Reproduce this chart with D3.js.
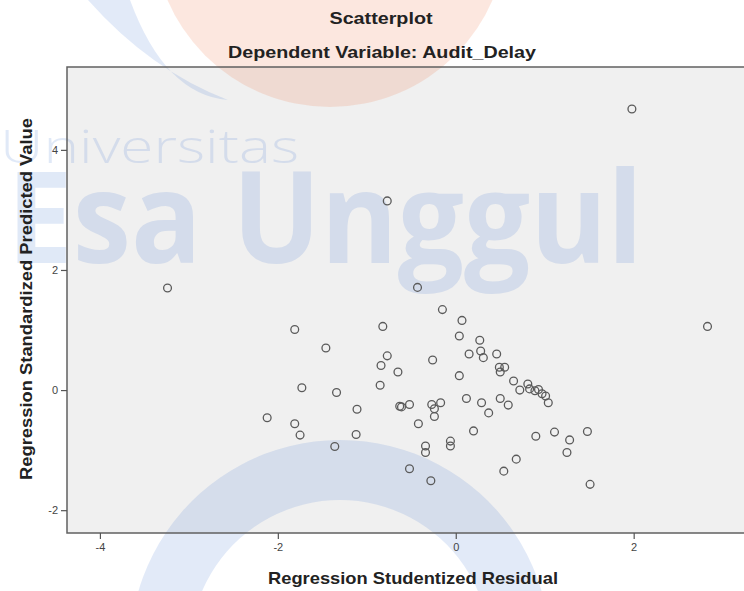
<!DOCTYPE html>
<meta charset="utf-8">
<script src="https://d3js.org/d3.v7.min.js"></script>
<style>
  body { margin: 0; background: #fff; }
  text { font-family: "Liberation Sans", Arial, sans-serif; }
</style>
<div id="chart"></div>
<script>

    // regression studentized residual (x) and standardized predicted value (y)
    var residual = [1.98, -0.77, -3.24, -0.43, 2.83, -0.15, 0.07, 0.04, 0.27, -1.81,
                    -0.82, -1.46, -0.77, -0.84, -0.65, -0.26, 0.15, 0.28, 0.31, 0.46,
                    0.49, 0.55, 0.50, 0.65, 0.72, 0.81, 0.83, 0.89, 0.93, 0.97,
                    1.01, 1.04, 0.04, -1.73, -1.34, -0.85, -2.12, -1.81, -1.75, -1.11,
                    -1.12, -1.36, -0.63, -0.61, -0.52, -0.27, -0.17, -0.24, -0.24, -0.42,
                    -0.34, -0.34, -0.52, -0.28, -0.06, -0.06, 0.12, 0.20, 0.29, 0.37,
                    0.50, 0.59, 0.54, 0.68, 0.90, 1.11, 1.28, 1.25, 1.48, 1.51];
    var predicted = [4.68, 3.15, 1.70, 1.71, 1.06, 1.34, 1.16, 0.90, 0.83, 1.01,
                     1.06, 0.70, 0.57, 0.41, 0.30, 0.50, 0.60, 0.65, 0.54, 0.60,
                     0.38, 0.38, 0.30, 0.15, 0.00, 0.10, 0.02, -0.01, 0.01, -0.06,
                     -0.10, -0.21, 0.24, 0.04, -0.04, 0.08, -0.46, -0.56, -0.75, -0.32,
                     -0.74, -0.94, -0.27, -0.28, -0.24, -0.24, -0.21, -0.31, -0.44, -0.56,
                     -0.93, -1.04, -1.31, -1.51, -0.85, -0.93, -0.14, -0.68, -0.21, -0.38,
                     -0.14, -0.25, -1.35, -1.15, -0.77, -0.70, -0.83, -1.04, -0.69, -1.57];
    var xTicks = [-4, -2, 0, 2];
    var yTicks = [-2, 0, 2, 4];

    var width = 744, height = 591;
    var plot = {left: 67, top: 67, right: 760, bottom: 533};

    var svg = d3.select("#chart")
      .append("svg")
        .attr("width", width)
        .attr("height", height);

    svg.append("rect")
        .attr("width", width)
        .attr("height", height)
        .attr("fill", "#fff");

    var x = d3.scaleLinear()
      .domain([-4.37, 3.42])
      .range([plot.left, plot.right]);

    var y = d3.scaleLinear()
      .domain([-2.38, 5.38])
      .range([plot.bottom, plot.top]);

    // plot background
    svg.append("rect")
        .attr("x", plot.left)
        .attr("y", plot.top)
        .attr("width", plot.right - plot.left)
        .attr("height", plot.bottom - plot.top)
        .attr("fill", "#f0f0f0");

    // faint university watermark
    var wm = svg.append("g");
    wm.append("circle")
        .attr("cx", 330).attr("cy", -70).attr("r", 177)
        .attr("fill", "#f07040").attr("opacity", 0.17);
    wm.append("path")
        .attr("d", "M88,0 Q150,70 228,100 Q165,95 130,0 Z")
        .attr("fill", "#3a6fd0").attr("opacity", 0.15);
    wm.append("path")
        .attr("d", d3.arc()({innerRadius: 150, outerRadius: 210, startAngle: -Math.PI * 0.62, endAngle: Math.PI * 0.62}))
        .attr("transform", "translate(340,650)")
        .attr("fill", "#3a6fd0").attr("opacity", 0.15);
    wm.append("text")
        .attr("x", 0).attr("y", 163)
        .attr("textLength", 299)
        .attr("lengthAdjust", "spacingAndGlyphs")
        .style("font-family", "'Open Sans', sans-serif")
        .style("font-weight", 300)
        .style("font-size", "46px")
        .attr("fill", "#3a6fd0").attr("opacity", 0.15)
        .text("Universitas");
    wm.append("text")
        .attr("x", 7).attr("y", 263)
        .attr("textLength", 636)
        .attr("lengthAdjust", "spacingAndGlyphs")
        .style("font-family", "'Open Sans', sans-serif")
        .style("font-weight", 700)
        .style("font-size", "127px")
        .attr("fill", "#3a6fd0").attr("opacity", 0.15)
        .text("Esa Unggul");

    // frame
    svg.append("rect")
        .attr("x", plot.left)
        .attr("y", plot.top)
        .attr("width", plot.right - plot.left)
        .attr("height", plot.bottom - plot.top)
        .attr("fill", "none")
        .attr("stroke", "#606060")
        .attr("stroke-width", 1.5);

    // axes
    var fmt = function(d) { return String(d); };
    var xAxis = svg.append("g")
        .attr("transform", "translate(0," + plot.bottom + ")")
        .call(d3.axisBottom(x).tickValues(xTicks).tickFormat(fmt).tickSize(6).tickPadding(4));
    var yAxis = svg.append("g")
        .attr("transform", "translate(" + plot.left + ",0)")
        .call(d3.axisLeft(y).tickValues(yTicks).tickFormat(fmt).tickSize(6).tickPadding(3));

    [xAxis, yAxis].forEach(function(a) {
      a.select(".domain").remove();
      a.selectAll(".tick line").attr("stroke", "#555").attr("stroke-width", 1.2);
      a.selectAll(".tick text")
        .attr("fill", "#444")
        .style("font-size", "11px")
        .style("font-family", "'Liberation Sans', Arial, sans-serif");
    });

    // points
    var points = residual.map(function(r, i) { return {r: r, p: predicted[i]}; });
    svg.append("g")
      .selectAll("circle")
      .data(points)
      .enter()
      .append("circle")
        .attr("cx", function(d) { return x(d.r); })
        .attr("cy", function(d) { return y(d.p); })
        .attr("r", 3.9)
        .attr("fill", "none")
        .attr("stroke", "#5a5a5a")
        .attr("stroke-width", 1.3);

    // titles
    svg.append("text")
        .attr("x", 381).attr("y", 24)
        .attr("text-anchor", "middle")
        .attr("textLength", 103)
        .attr("lengthAdjust", "spacingAndGlyphs")
        .style("font-size", "17px").style("font-weight", "bold")
        .attr("fill", "#222")
        .text("Scatterplot");

    svg.append("text")
        .attr("x", 382).attr("y", 58)
        .attr("text-anchor", "middle")
        .attr("textLength", 308)
        .attr("lengthAdjust", "spacingAndGlyphs")
        .style("font-size", "17px").style("font-weight", "bold")
        .attr("fill", "#222")
        .text("Dependent Variable: Audit_Delay");

    svg.append("text")
        .attr("x", 413).attr("y", 584)
        .attr("text-anchor", "middle")
        .attr("textLength", 290)
        .attr("lengthAdjust", "spacingAndGlyphs")
        .style("font-size", "17px").style("font-weight", "bold")
        .attr("fill", "#222")
        .text("Regression Studentized Residual");

    svg.append("text")
        .attr("transform", "translate(32,299) rotate(-90)")
        .attr("text-anchor", "middle")
        .attr("textLength", 362)
        .attr("lengthAdjust", "spacingAndGlyphs")
        .style("font-size", "17px").style("font-weight", "bold")
        .attr("fill", "#222")
        .text("Regression Standardized Predicted Value");

</script>
